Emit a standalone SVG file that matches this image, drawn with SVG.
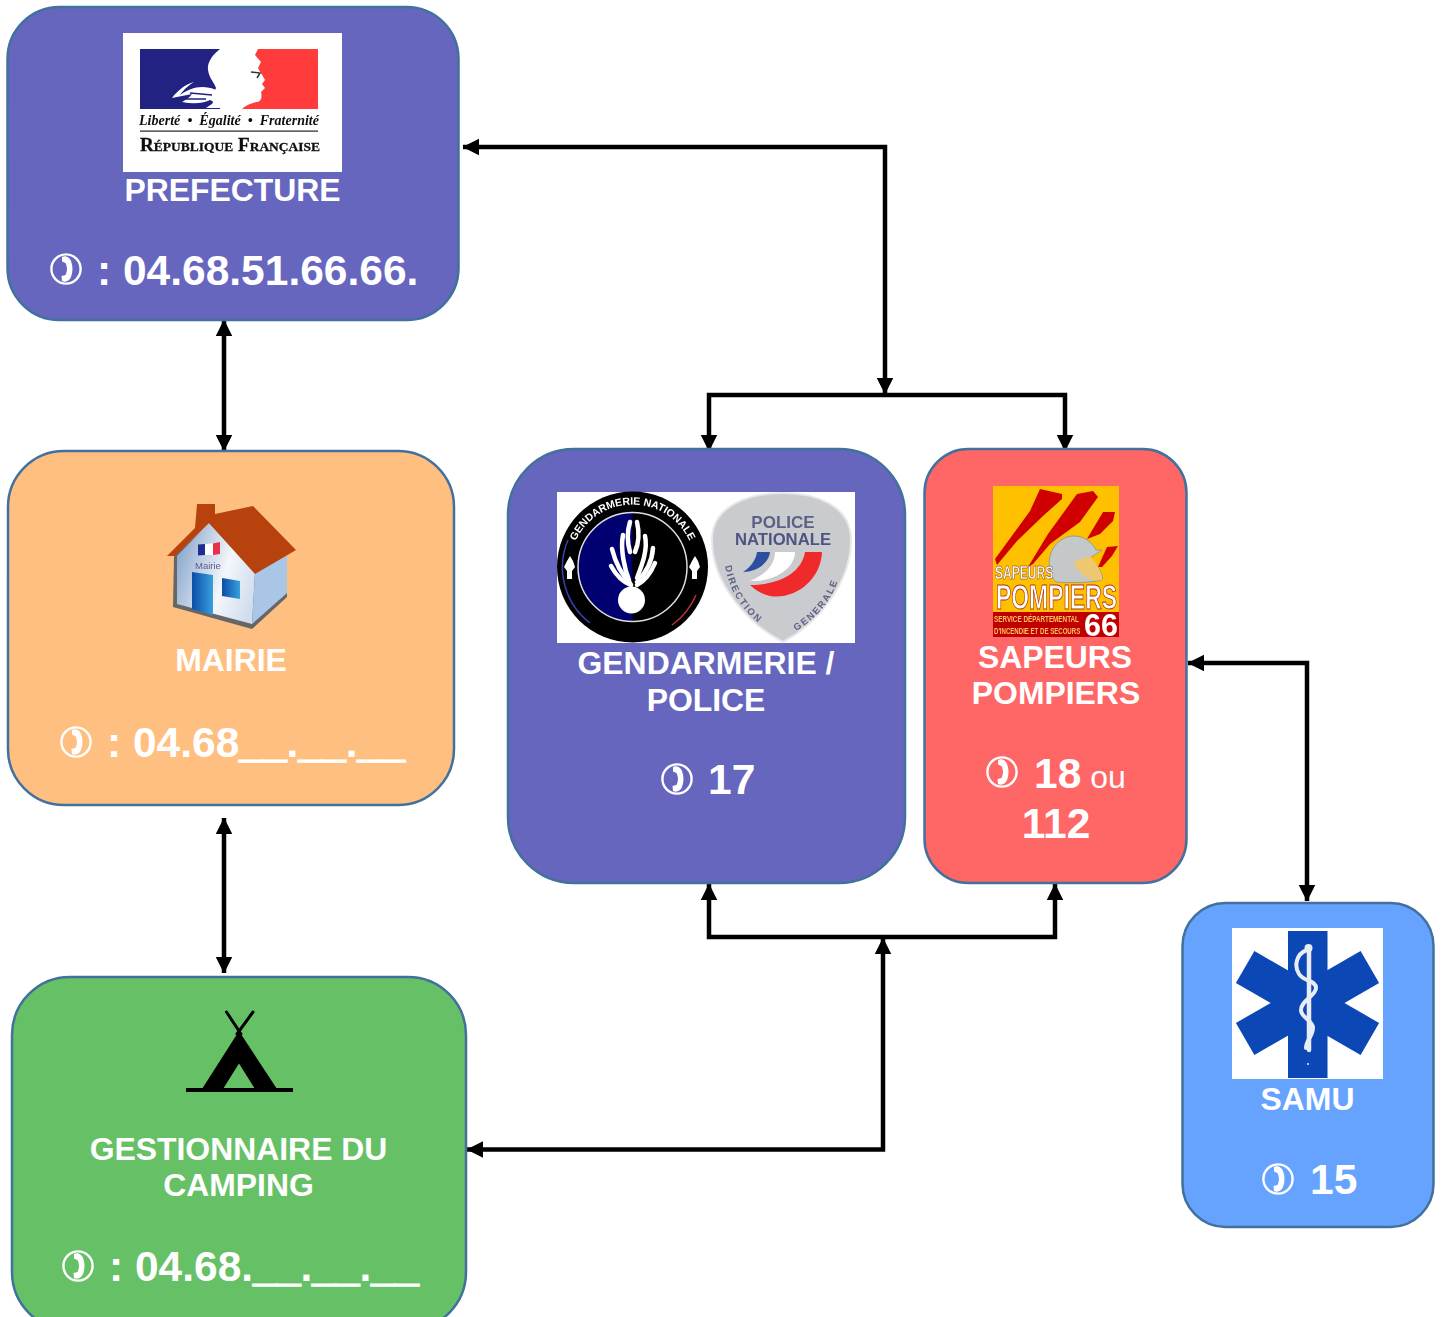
<svg xmlns="http://www.w3.org/2000/svg" width="1443" height="1317" viewBox="0 0 1443 1317">
<style>
.box{stroke:#41719C;stroke-width:2.5}
.t{font-family:"Liberation Sans",Arial,sans-serif;font-weight:700;fill:#fff;font-size:31.900px}
.m{text-anchor:middle}
.n{font-size:42.500px}
.u{stroke:#fff;stroke-width:1.600}
.c{fill:none;stroke:#000;stroke-width:4.5}
.ls{font-family:"Liberation Sans",Arial,sans-serif;font-weight:700}
.srf{font-family:"Liberation Serif","Times New Roman",serif;font-weight:700;fill:#111}
.leaf{fill:none;stroke:#fff;stroke-width:4.500;stroke-linecap:round}
</style>
<defs>
<marker id="a" viewBox="0 0 16 16" refX="15.5" refY="8" markerWidth="17" markerHeight="18" markerUnits="userSpaceOnUse" orient="auto-start-reverse"><path d="M0 0L16 8L0 16z" fill="#000"/></marker>
<symbol id="ph" viewBox="-17 -17 34 34" overflow="visible">
<circle r="14.6" fill="none" stroke="#fff" stroke-width="2.4"/>
<path d="M-4-12C0-14 4-11 5-8C7-3 7 3 5 8C4 11 0 14-4 12L-4.500 7L-.5 6C1.500 2 1.500-2-.5-6L-4-7.500Z" fill="#fff"/>
</symbol>
<filter id="s" x="-5%" y="-5%" width="110%" height="110%"><feGaussianBlur stdDeviation=".45"/></filter>
<linearGradient id="w" x1="0" y1=".3" x2="1" y2=".7"><stop offset="0" stop-color="#8CA9CE"/><stop offset=".6" stop-color="#F4F6FB"/><stop offset="1" stop-color="#D0DDEE"/></linearGradient>
<linearGradient id="d" x1="0" y1="0" x2="1" y2="0"><stop offset="0" stop-color="#0B4DA8"/><stop offset="1" stop-color="#38A0DC"/></linearGradient>
<path id="gt" d="M570 567A62.500 62.500 0 0 1 695 567"/>
<path id="dir" d="M725 566C730 595 747 617 770 631"/>
<path id="gen" d="M796 631C820 617 836 595 842 566"/>
</defs>

<g id="connectors">
<path class="c" marker-start="url(#a)" marker-end="url(#a)" d="M463 147H885V394"/>
<path class="c" marker-start="url(#a)" marker-end="url(#a)" d="M709 451V395H1065V451"/>
<path class="c" marker-start="url(#a)" marker-end="url(#a)" d="M224 320V451"/>
<path class="c" marker-start="url(#a)" marker-end="url(#a)" d="M224 818V973"/>
<path class="c" marker-start="url(#a)" marker-end="url(#a)" d="M709 884V937H1055V884"/>
<path class="c" marker-start="url(#a)" marker-end="url(#a)" d="M467 1149.500H883V938"/>
<path class="c" marker-start="url(#a)" marker-end="url(#a)" d="M1188 663H1307V901"/>
</g>

<g id="prefecture">
<rect class="box" x="7.500" y="7" width="451" height="313" rx="52" fill="#6666BF"/>
<rect x="123" y="33" width="219" height="139" fill="#fff"/>
<g filter="url(#s)">
<rect x="140" y="49" width="80" height="60" fill="#212283"/>
<rect x="230" y="49" width="88" height="60" fill="#FF3A3A"/>
<path d="M220 49C212 55 207 63 208 70C209 78 214 82 216 88L214 92C220 100 224 106 226 109H242C246 105 254 102 258 102C262 100 262 96 261 92L265 88L262 84L265 80C263 76 260 72 258 68L261 62L255 55L258 49Z" fill="#fff"/>
<path d="M172 98C178 90 186 84 194 82C186 87 182 92 180 95C190 88 202 84 216 90C222 96 224 102 222 108H206C212 104 216 102 210 100C202 104 192 104 182 102C186 100 190 97 192 94C186 95 178 97 172 98Z" fill="#fff"/>
<path d="M190 93L212 95M186 99L206 99" stroke="#212283" stroke-width="1.500" fill="none"/>
<path d="M251 72L260 73L257 78" stroke="#333" stroke-width="1.500" fill="none"/>
<text class="srf" x="139" y="125" font-size="14" font-style="italic" textLength="180" lengthAdjust="spacing" xml:space="preserve">Liberté  •  Égalité  •  Fraternité</text>
<rect x="140" y="130.500" width="178" height="1.200" fill="#222"/>
<text class="srf" x="140" y="151" font-size="18.500" stroke="#111" stroke-width=".3" style="font-variant:small-caps" textLength="180" lengthAdjust="spacingAndGlyphs">République Française</text>
</g>
<text class="t m" x="232.500" y="200.500">PREFECTURE</text>
<use href="#ph" x="49" y="252" width="34" height="34"/>
<text class="t n" x="97" y="284.500">: 04.68.51.66.66.</text>
</g>

<g id="mairie">
<rect class="box" x="8" y="451" width="446" height="354" rx="56" fill="#FFBF80"/>
<g filter="url(#s)">
<path d="M174 556L173 607L252 629L287 597L287 560L250 530L210 523Z" fill="#666"/>
<path d="M177 556L209 523L255 573L252 624L177 604Z" fill="url(#w)"/>
<path d="M255 573L287 555L287 593L252 624Z" fill="#A9C6E6"/>
<path d="M192 572L213 575L213 615L192 609Z" fill="url(#d)"/>
<path d="M222 578L240 581L240 599L222 596Z" fill="url(#d)"/>
<path d="M197 504L215 504L215 514L253 506L296 550L255 574L209 523L175 556L167 556L195 528Z" fill="#B8420A"/>
<path d="M198 544.500L205 544V555L198 555.500Z" fill="#1F2F8F"/><path d="M205 544L213 543.500V555L205 555Z" fill="#fff"/><path d="M213 543.500L220 542V554L213 555Z" fill="#E8304A"/>
<text x="195" y="569" font-size="9.500" fill="#5F5A8F" font-family="Liberation Sans,Arial,sans-serif">Mairie</text>
</g>
<text class="t m" x="231" y="671">MAIRIE</text>
<use href="#ph" x="59" y="725" width="34" height="34"/>
<text class="t n" x="107" y="756.500">: 04.68<tspan class="u">__</tspan>.<tspan class="u">__</tspan>.<tspan class="u">__</tspan></text>
</g>

<g id="gendarmerie">
<rect class="box" x="508" y="449" width="397" height="434" rx="66" fill="#6666BF"/>
<rect x="557" y="492" width="298" height="151" fill="#fff"/>
<g filter="url(#s)">
<circle cx="632.500" cy="567" r="75.500" fill="#000"/>
<path d="M568 540A70 70 0 0 0 590 623" fill="none" stroke="#3A3FB0" stroke-width="1.500"/>
<path d="M696 595A70 70 0 0 1 672 625" fill="none" stroke="#B8323C" stroke-width="1.500"/>
<circle cx="632.500" cy="567" r="54.500" fill="#05056F"/>
<path d="M632.500 512.500A54.500 54.500 0 0 1 632.500 621.500Z" fill="#000"/>
<circle cx="632.500" cy="567" r="54.500" fill="none" stroke="#ddd" stroke-width="1.500"/>
<circle cx="631.500" cy="600" r="13.500" fill="#fff"/>
<path class="leaf" d="M630 522C626 535 628 545 630 552"/>
<path class="leaf" d="M637 522C640 535 638 545 635 552"/>
<path class="leaf" d="M623 535C620 550 625 570 629 580"/>
<path class="leaf" d="M612 549C616 565 622 575 630 583"/>
<path class="leaf" d="M611 566C616 575 622 582 631 585"/>
<path class="leaf" d="M645 536C648 550 642 565 637 578"/>
<path class="leaf" d="M653 548C652 563 645 574 637 582"/>
<path class="leaf" d="M655 563C650 575 645 581 637 585"/>
<g fill="#fff"><path d="M570 556l-3 5l-3 6l3 4v8h5v-8l3-4l-2-6z"/><path d="M695 556l-3 5l-3 6l3 4v8h5v-8l3-4l-2-6z"/></g>
<text class="ls" font-size="10.500" fill="#fff" font-weight="400"><textPath href="#gt" startOffset="50%" text-anchor="middle">GENDARMERIE NATIONALE</textPath></text>
<path d="M783 493C815 493 851 505 851 540C851 585 815 625 783 642C750 625 712 585 712 540C712 505 750 493 783 493Z" fill="#CACBCF" stroke="#E8E8EA" stroke-width="2"/>
<text class="ls m" x="783" y="528" font-size="17" fill="#5C6185" font-weight="400">POLICE</text>
<text class="ls m" x="783" y="545" font-size="17" fill="#4E5480" font-weight="400" textLength="96" lengthAdjust="spacingAndGlyphs">NATIONALE</text>
<path d="M757 552H770C769 562 758 572 743 572C750 568 756 560 757 552Z" fill="#2E4FA0"/>
<path d="M775 552H795C795 568 775 582 750 581C765 575 775 565 775 552Z" fill="#fff"/>
<path d="M805 552H822C821 580 795 600 770 596C762 594 755 590 750 585C780 585 802 572 805 552Z" fill="#F02B2B"/>
<text class="ls" font-size="9.500" fill="#5C6185" letter-spacing="1.800"><textPath href="#dir">DIRECTION</textPath></text>
<text class="ls" font-size="9.500" fill="#5C6185" letter-spacing="1.800"><textPath href="#gen">GENERALE</textPath></text>
</g>
<text class="t m" x="706" y="673.500">GENDARMERIE /</text>
<text class="t m" x="706" y="710.500">POLICE</text>
<use href="#ph" x="660" y="762" width="34" height="34"/>
<text class="t n" x="708" y="794">17</text>
</g>

<g id="sapeurs-pompiers">
<rect class="box" x="924.500" y="449" width="262" height="434" rx="44" fill="#FF6666"/>
<rect x="993" y="486" width="126" height="151" fill="#FFC000"/>
<g filter="url(#s)">
<path d="M995 559L1030 511L1040 489L1062 494V499L1043 516L1017 541L997 565Z" fill="#D00000"/>
<path d="M1028 567L1048 534L1077 494L1093 491L1098 497L1080 522L1050 544L1033 564Z" fill="#D00000"/>
<path d="M1087 539L1103 512L1115 512L1113 521L1100 534Z" fill="#D00000"/>
<path d="M1098 567L1107 547L1118 546L1112 556L1102 567Z" fill="#D00000"/>
<path d="M1050 570C1046 552 1058 536 1074 536C1084 536 1092 542 1096 550L1102 550L1090 558C1098 565 1104 575 1102 580C1090 583 1070 583 1056 582C1052 578 1050 574 1050 570Z" fill="#C5C8C8" stroke="#8A9090" stroke-width=".8"/>
<path d="M1073 562L1090 556C1098 565 1103 575 1102 580C1092 582 1082 578 1073 562Z" fill="#EEC870"/>
<text class="ls" transform="translate(995 579) scale(.67 1)" font-size="18" fill="#fff" stroke="#6a2a20" stroke-width=".5" font-weight="400">SAPEURS</text>
<text class="ls" transform="translate(996 609) scale(.655 1)" font-size="35" fill="#fff" stroke="#B03010" stroke-width=".9">POMPIERS</text>
<rect x="993" y="612" width="126" height="25" fill="#C00000"/>
<text class="ls" transform="translate(994 622) scale(.744 1)" font-size="8.500" fill="#FFC060" font-weight="400">SERVICE DÉPARTEMENTAL</text>
<text class="ls" transform="translate(994 633.500) scale(.717 1)" font-size="8.500" fill="#FFC060" font-weight="400">D'INCENDIE ET DE SECOURS</text>
<text class="ls" x="1084" y="636" font-size="30.500" fill="#fff">66</text>
</g>
<text class="t m" x="1055" y="667.500">SAPEURS</text>
<text class="t m" x="1056" y="703.500">POMPIERS</text>
<use href="#ph" x="985" y="755" width="34" height="34"/>
<text class="t n" x="1034" y="787.500">18<tspan font-size="32" font-weight="400"> ou</tspan></text>
<text class="t n m" x="1056" y="837.500">112</text>
</g>

<g id="samu">
<rect class="box" x="1182.500" y="903" width="251" height="324" rx="43" fill="#66A3FF"/>
<rect x="1232" y="928" width="151" height="151" fill="#fff"/>
<g fill="#0B47B5">
<rect x="1288" y="931" width="39.500" height="147"/>
<rect x="1289" y="931" width="37" height="144" transform="rotate(60 1307.500 1003)"/>
<rect x="1289" y="931" width="37" height="144" transform="rotate(-60 1307.500 1003)"/>
</g>
<g fill="none" stroke="#E8ECF5" stroke-linecap="round">
<path d="M1309 948V1050" stroke-width="4.500"/>
<path d="M1307 950C1296 954 1294 966 1299 974C1304 982 1316 980 1316 988C1316 996 1301 1000 1301 1010C1301 1018 1313 1020 1313 1028C1313 1036 1306 1040 1306 1048" stroke-width="4"/>
</g>
<circle cx="1308.500" cy="948" r="4" fill="#E8ECF5"/>
<circle cx="1308" cy="1064" r="1" fill="#E8ECF5"/>
<text class="t m" x="1307.500" y="1110">SAMU</text>
<use href="#ph" x="1261" y="1162" width="34" height="34"/>
<text class="t n" x="1310" y="1194">15</text>
</g>

<g id="camping">
<rect class="box" x="12" y="977" width="454" height="353" rx="58" fill="#66C066"/>
<g>
<path d="M186 1090H293" stroke="#000" stroke-width="4" fill="none"/>
<path d="M226.500 1012L241 1034M253 1012L237 1034" stroke="#000" stroke-width="3" stroke-linecap="round" fill="none"/>
<path d="M239 1031L277 1089H255L239 1063.500L223 1089H202Z" fill="#000"/>
</g>
<text class="t m" x="238.500" y="1160">GESTIONNAIRE DU</text>
<text class="t m" x="238.500" y="1195.500">CAMPING</text>
<use href="#ph" x="61" y="1249" width="34" height="34"/>
<text class="t n" x="109" y="1281">: 04.68.<tspan class="u">__</tspan>.<tspan class="u">__</tspan>.<tspan class="u">__</tspan></text>
</g>
</svg>
